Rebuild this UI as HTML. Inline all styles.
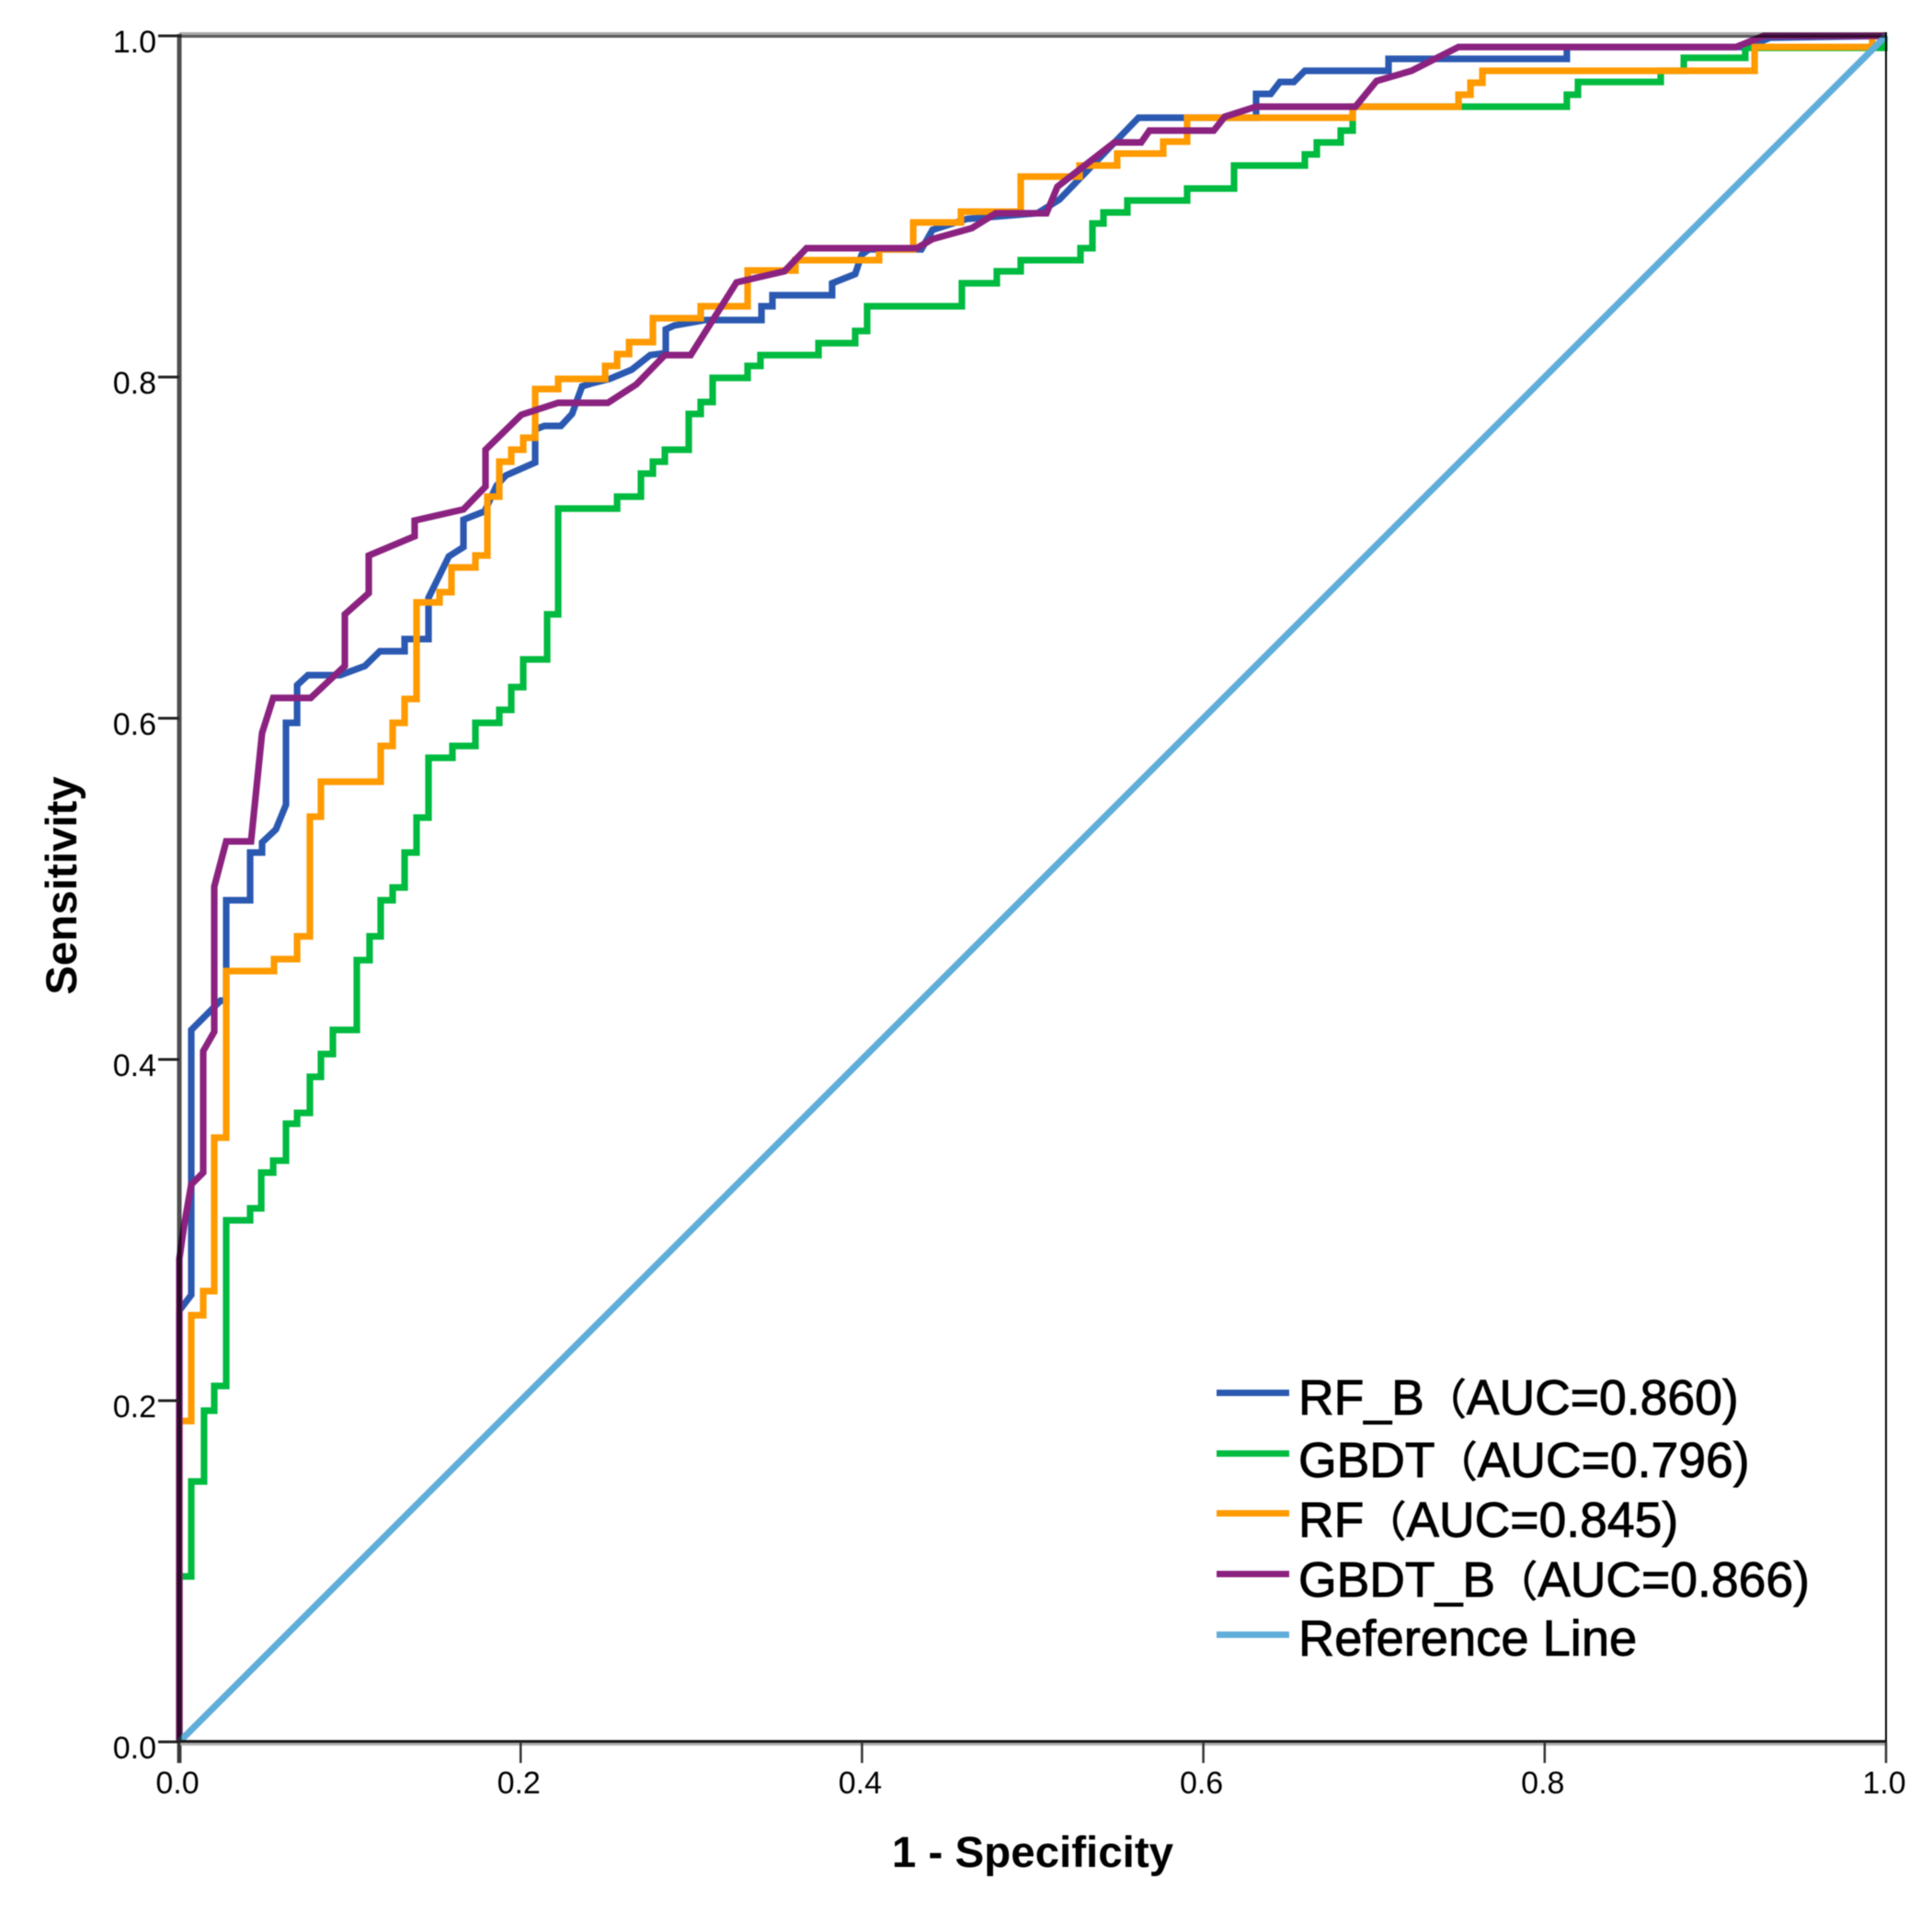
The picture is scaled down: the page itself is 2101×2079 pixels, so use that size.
<!DOCTYPE html>
<html lang="en">
<head>
<meta charset="utf-8">
<title>ROC curves</title>
<style>
  html, body { margin: 0; padding: 0; background: #ffffff; }
  svg { display: block; filter: blur(0.6px); }
  text { font-family: "Liberation Sans", "Noto Sans CJK SC", sans-serif; fill: #000; }
  .tick-label { font-size: 34px; }
  .axis-title { font-size: 47.5px; font-weight: bold; }
  .legend-text { font-size: 53.5px; stroke: #000; stroke-width: 0.9px; }
  .legend-paren { font-size: 46px; }
</style>
</head>
<body>
<svg id="chart" xmlns="http://www.w3.org/2000/svg" width="2101" height="2079" viewBox="0 0 2101 2079">
  <rect x="0" y="0" width="2101" height="2079" fill="#ffffff"/>
  <g id="series-layer"></g>
  <g id="axis-layer"></g>
  <text class="axis-title" x="1123" y="2030" text-anchor="middle">1 - Specificity</text>
  <text class="axis-title" transform="translate(83 963) rotate(-90)" text-anchor="middle">Sensitivity</text>
  <g>
    <g>
      <rect x="1323" y="1511" width="79" height="7" fill="#2b59b1"/>
      <text class="legend-text" x="1412" y="1538">RF_B<tspan class="legend-paren">（</tspan>AUC=0.860)</text>
    </g>
    <g>
      <rect x="1323" y="1577" width="79" height="7" fill="#00bb40"/>
      <text class="legend-text" x="1412" y="1606">GBDT<tspan class="legend-paren">（</tspan>AUC=0.796)</text>
    </g>
    <g>
      <rect x="1323" y="1642" width="79" height="7" fill="#ff9a00"/>
      <text class="legend-text" x="1412" y="1671">RF<tspan class="legend-paren">（</tspan>AUC=0.845)</text>
    </g>
    <g>
      <rect x="1323" y="1708" width="79" height="7" fill="#8b2280"/>
      <text class="legend-text" x="1412" y="1736">GBDT_B<tspan class="legend-paren">（</tspan>AUC=0.866)</text>
    </g>
    <g>
      <rect x="1323" y="1774" width="79" height="7" fill="#5fadd9"/>
      <text class="legend-text" style="font-size:54.3px" x="1412" y="1800">Reference Line</text>
    </g>
  </g>
</svg>
<script>
// Tick labels
const xTicks = [0, 0.2, 0.4, 0.6, 0.8, 1];
const yTicks = [0, 0.2, 0.4, 0.6, 0.8, 1];

// RF_B: polyline vertices
const rfbFpr = [0,0,.0070,.0070,.0242,.0275,.0275,.0415,.0415,.0485,.0485,.0566,.0625,.0625,.0690,.0690,.0754,.0943,.1088,.1175,.1320,.1320,.1460,.1460,.1579,.1665,.1665,.1789,.1859,.1913,.2085,.2085,.2139,.2236,.2301,.2360,.2414,.2522,.2651,.2759,.2850,.2850,.2899,.3082,.3411,.3411,.3475,.3475,.3825,.3825,.3960,.3998,.4041,.4348,.4413,.4617,.5027,.5156,.5469,.5620,.6309,.6309,.6395,.6449,.6530,.6595,.7085,.7085,.8130,.8130,.9186,.9321,1];
const rfbTpr = [0,.2528,.2620,.4173,.4345,.4345,.4933,.4933,.5213,.5213,.5272,.5348,.5493,.5973,.5973,.6194,.6253,.6253,.6307,.6393,.6393,.6464,.6464,.6706,.6949,.7003,.7164,.7213,.7364,.7423,.7499,.7693,.7714,.7714,.7784,.7946,.7962,.7989,.8043,.8129,.8140,.8280,.8302,.8334,.8334,.8415,.8415,.8480,.8480,.8550,.8604,.8717,.8749,.8749,.8863,.8927,.8960,.9040,.9364,.9520,.9520,.9660,.9660,.9730,.9730,.9795,.9795,.9865,.9865,.9935,.9935,.9989,1];

// GBDT: step curve (at each fpr the curve rises to tpr)
const gbdtFpr = [0,.0070,.0145,.0205,.0275,.0415,.0480,.0550,.0625,.0690,.0765,.0830,.0900,.1040,.1115,.1180,.1250,.1320,.1390,.1460,.1600,.1735,.1875,.1945,.2015,.2155,.2220,.2565,.2705,.2775,.2845,.2985,.3055,.3125,.3330,.3405,.3745,.3960,.4030,.4585,.4790,.4930,.5280,.5350,.5415,.5555,.5905,.6180,.6595,.6665,.6805,.6875,.8130,.8195,.8680,.8815,.9175,.9990];
const gbdtTpr = [.0970,.1526,.1941,.2086,.3057,.3127,.3337,.3407,.3623,.3687,.3898,.4032,.4173,.4582,.4722,.4933,.5008,.5213,.5418,.5768,.5838,.5973,.6049,.6183,.6345,.6609,.7229,.7299,.7434,.7504,.7574,.7784,.7854,.7995,.8065,.8129,.8199,.8270,.8415,.8550,.8620,.8685,.8755,.8900,.8965,.9035,.9105,.9240,.9305,.9375,.9445,.9585,.9655,.9730,.9795,.9871,.9930,1];

// RF: step curve
const rfFpr = [0,.0070,.0140,.0205,.0275,.0555,.0690,.0765,.0830,.1180,.1250,.1320,.1390,.1525,.1595,.1735,.1805,.1875,.1945,.2015,.2085,.2220,.2495,.2565,.2635,.2775,.3055,.3330,.3610,.4100,.4300,.4580,.4930,.5275,.5495,.5765,.5905,.6875,.7495,.7565,.7635,.9230,.9919];
const rfTpr = [.1881,.2501,.2642,.3542,.4518,.4588,.4722,.5423,.5628,.5838,.5973,.6113,.6679,.6739,.6884,.6954,.7299,.7504,.7574,.7644,.7930,.7989,.8065,.8135,.8205,.8345,.8415,.8625,.8685,.8749,.8906,.8970,.9175,.9240,.9310,.9380,.9520,.9585,.9655,.9725,.9795,.9935,1];

// GBDT_B: polyline vertices
const gbdtbFpr = [0,0,.0027,.0070,.0140,.0140,.0205,.0205,.0275,.0420,.0485,.0550,.0770,.0970,.0970,.1110,.1110,.1379,.1379,.1665,.1794,.1794,.2004,.2220,.2511,.2678,.2845,.2996,.3265,.3545,.3675,.4321,.4413,.4644,.4784,.5081,.5145,.5479,.5636,.5684,.6061,.6126,.6309,.6891,.7015,.7220,.7495,.9122,.9284,1];
const gbdtbTpr = [0,.2830,.3019,.3267,.3337,.4049,.4162,.5013,.5278,.5278,.5914,.6119,.6119,.6307,.6609,.6733,.6954,.7067,.7159,.7224,.7358,.7574,.7779,.7849,.7849,.7957,.8129,.8129,.8555,.8620,.8755,.8755,.8809,.8873,.8960,.8960,.9116,.9375,.9375,.9445,.9445,.9526,.9585,.9585,.9736,.9795,.9935,.9935,1,1];

// Reference diagonal
const refFpr = [0, 1];
const refTpr = [0, 1];

const plotLeft = 195, plotRight = 2051, plotTop = 39, plotBottom = 1894;
function xAxis(v) { return plotLeft + v * (plotRight - plotLeft); }
function yAxis(v) { return plotBottom - v * (plotBottom - plotTop); }

const SVG_NS = 'http://www.w3.org/2000/svg';
function make(tag, attrs, parent) {
  const el = document.createElementNS(SVG_NS, tag);
  for (const k in attrs) el.setAttribute(k, attrs[k]);
  parent.appendChild(el);
  return el;
}
function polylinePath(fpr, tpr) {
  let d = '';
  for (let i = 0; i < fpr.length; i++) {
    d += (i ? 'L' : 'M') + xAxis(fpr[i]).toFixed(1) + ' ' + yAxis(tpr[i]).toFixed(1);
  }
  return d;
}
function stepPath(fpr, tpr) {
  let d = 'M' + xAxis(0) + ' ' + yAxis(0);
  let prev = 0;
  for (let i = 0; i < fpr.length; i++) {
    d += 'L' + xAxis(fpr[i]).toFixed(1) + ' ' + yAxis(prev).toFixed(1);
    d += 'L' + xAxis(fpr[i]).toFixed(1) + ' ' + yAxis(tpr[i]).toFixed(1);
    prev = tpr[i];
  }
  d += 'L' + xAxis(1) + ' ' + yAxis(prev).toFixed(1);
  return d;
}

const seriesLayer = document.getElementById('series-layer');
const axisLayer = document.getElementById('axis-layer');
const lineStyle = { fill: 'none', 'stroke-width': 7.2, 'stroke-linejoin': 'miter', 'stroke-miterlimit': 3 };

const curveRfb = make('path', Object.assign({ d: polylinePath(rfbFpr, rfbTpr), stroke: '#2b59b1' }, lineStyle), seriesLayer);



const curveGbdt = make('path', Object.assign({ d: stepPath(gbdtFpr, gbdtTpr), stroke: '#00bb40' }, lineStyle), seriesLayer);



const curveRf = make('path', Object.assign({ d: stepPath(rfFpr, rfTpr), stroke: '#ff9a00' }, lineStyle), seriesLayer);



const curveGbdtb = make('path', Object.assign({ d: polylinePath(gbdtbFpr, gbdtbTpr), stroke: '#8b2280' }, lineStyle), seriesLayer);



const curveRef = make('path', Object.assign({ d: polylinePath(refFpr, refTpr), stroke: '#5fadd9' }, lineStyle), seriesLayer);



// Frame
const topLight = make('rect', { x: plotLeft, y: plotTop - 4, width: plotRight - plotLeft, height: 3, fill: '#a8a8a8', style: 'mix-blend-mode:multiply' }, axisLayer);



const topAxis = make('rect', { x: plotLeft, y: plotTop - 1, width: plotRight - plotLeft, height: 3, fill: '#5a5a5a', style: 'mix-blend-mode:multiply' }, axisLayer);



const leftAxis = make('rect', { x: plotLeft - 2.5, y: plotTop - 2, width: 5, height: plotBottom - plotTop + 25, fill: '#505050', style: 'mix-blend-mode:multiply' }, axisLayer);



const bottomShade = make('rect', { x: plotLeft, y: plotBottom + 1, width: plotRight - plotLeft, height: 3, fill: '#b0b0b0' }, axisLayer);



const bottomAxis = make('rect', { x: plotLeft, y: plotBottom - 2, width: plotRight - plotLeft, height: 3, fill: '#1a1a1a' }, axisLayer);



const rightAxis = make('rect', { x: plotRight - 1, y: plotTop - 4, width: 2, height: plotBottom - plotTop + 4, fill: '#000000' }, axisLayer);



// Ticks
xTicks.forEach(function (v) {
  const tick = make('rect', { x: xAxis(v) - 1.25, y: plotBottom, width: 2.5, height: 23, fill: '#333333' }, axisLayer);
  
  
  const label = make('text', { x: xAxis(v) - 2, y: 1950, 'text-anchor': 'middle', class: 'tick-label' }, axisLayer);
  
  
  label.textContent = v.toFixed(1);
});
yTicks.forEach(function (v) {
  const tick = make('rect', { x: plotLeft - 23, y: yAxis(v) - 1.5, width: 23, height: 3, fill: '#222222' }, axisLayer);
  
  
  const label = make('text', { x: 170, y: yAxis(v) + 18, 'text-anchor': 'end', class: 'tick-label' }, axisLayer);
  
  
  label.textContent = v.toFixed(1);
});
</script>
</body>
</html>
